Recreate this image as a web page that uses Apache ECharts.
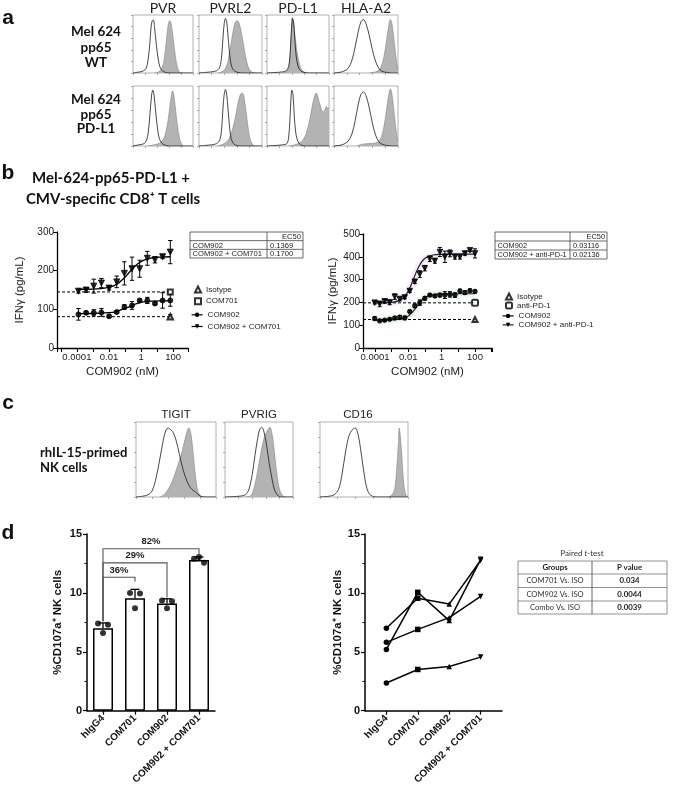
<!DOCTYPE html>
<html><head><meta charset="utf-8">
<script src="https://cdn.jsdelivr.net/npm/echarts@6/dist/echarts.min.js"></script>
<style>html,body{margin:0;padding:0;background:#fff}#c{width:677px;height:787px}</style>
</head><body><div id="c"></div>
<script>
// ================= DATA =================
// Panel a: flow histograms, [position (0-100, log fluorescence), % of max]
const aPvrWtIso = [[0,0],[6,1],[12,2],[18,4],[22,8],[25,22],[28,50],[30,78],[32,90],[34,91],[36,78],[39,48],[42,24],[45,10],[49,4],[54,1],[62,0],[100,0]];
const aPvrWtStain = [[36,0],[43,2],[47,6],[51,18],[54,40],[57,70],[59,85],[61,90],[63,87],[66,68],[69,42],[72,20],[75,7],[78,1],[82,0]];
const aPvrl2WtIso = [[0,0],[10,1],[20,2],[28,4],[33,10],[36,30],[38,60],[40,85],[42,94],[44,88],[46,65],[48,40],[50,20],[53,8],[57,3],[62,1],[70,0],[100,0]];
const aPvrl2WtStain = [[30,0],[38,3],[42,8],[46,20],[50,45],[53,65],[56,82],[58,88],[61,90],[64,85],[68,65],[72,40],[76,18],[80,6],[85,1],[90,0]];
const aPdl1WtIso = [[0,0],[15,1],[25,2],[32,5],[36,18],[38,48],[40,84],[41,95],[43,86],[45,56],[47,30],[50,12],[54,4],[60,1],[70,0],[100,0]];
const aPdl1WtStain = [[25,0],[32,3],[36,14],[38,44],[40,84],[41,93],[43,88],[45,66],[48,40],[51,22],[54,10],[58,3],[64,0]];
const aHlaWtIso = [[0,0],[8,1],[15,3],[22,8],[28,22],[33,45],[38,72],[42,88],[46,92],[50,85],[55,65],[60,40],[65,20],[70,8],[75,3],[82,1],[90,0],[100,0]];
const aHlaWtStain = [[55,0],[65,2],[70,5],[74,12],[78,28],[82,55],[85,78],[88,92],[90,88],[93,65],[96,35],[99,10],[100,5]];
const aPvrPdIso = [[0,0],[5,1],[10,2],[16,3],[21,6],[25,20],[28,50],[31,85],[33,93],[35,85],[38,55],[41,28],[44,12],[48,5],[52,2],[60,0],[100,0]];
const aPvrPdStain = [[25,0],[35,2],[45,5],[50,10],[54,20],[58,40],[61,62],[64,85],[66,92],[68,85],[71,60],[74,35],[77,15],[80,5],[84,0]];
const aPvrl2PdIso = [[0,0],[10,1],[20,2],[28,4],[33,10],[36,30],[38,62],[40,86],[42,94],[44,86],[46,62],[48,38],[50,18],[53,7],[57,2],[64,0],[100,0]];
const aPvrl2PdStain = [[30,0],[40,4],[45,8],[50,18],[55,35],[59,55],[62,72],[65,84],[68,88],[70,87],[72,78],[75,55],[78,30],[81,12],[85,3],[89,0]];
const aPdl1PdIso = [[0,0],[15,1],[25,2],[32,4],[35,15],[37,45],[39,85],[40,93],[42,85],[44,50],[46,25],[49,10],[53,3],[60,0],[100,0]];
const aPdl1PdStain = [[35,0],[45,2],[52,5],[58,10],[63,20],[67,35],[71,55],[74,72],[77,84],[79,88],[81,86],[84,74],[87,64],[89,58],[91,57],[94,62],[96,66],[98,62],[100,64]];
const aHlaPdIso = [[0,0],[8,1],[15,3],[22,8],[28,20],[33,42],[38,70],[42,86],[46,90],[50,84],[55,64],[60,38],[65,18],[70,7],[75,3],[82,1],[90,0],[100,0]];
const aHlaPdStain = [[35,0],[45,3],[55,4],[65,5],[70,8],[74,15],[78,32],[82,60],[85,82],[88,95],[90,90],[93,65],[96,35],[99,12],[100,8]];
const aMarkers = ['PVR','PVRL2','PD-L1','HLA-A2'];

// Panel c histograms
const cTigitIso = [[0,0],[8,1],[15,3],[20,8],[25,25],[30,52],[34,75],[37,88],[40,92],[43,90],[46,87],[50,76],[54,58],[58,40],[62,26],[66,16],[70,10],[74,7],[77,4],[81,1],[88,0],[100,0]];
const cTigitStain = [[30,0],[35,3],[40,10],[45,20],[50,35],[54,48],[58,62],[61,76],[64,88],[66,92],[69,82],[72,52],[75,22],[78,6],[82,0]];
const cPvrigIso = [[0,0],[20,1],[30,3],[35,10],[40,30],[44,55],[48,78],[51,90],[54,93],[57,88],[61,70],[65,45],[69,25],[72,12],[76,4],[82,0],[100,0]];
const cPvrigStain = [[30,0],[38,2],[42,10],[46,25],[50,45],[54,65],[58,80],[62,88],[66,93],[69,85],[72,65],[75,40],[79,15],[83,4],[88,0]];
const cCd16Iso = [[0,0],[10,1],[16,3],[21,10],[25,30],[29,60],[33,82],[37,90],[40,92],[43,85],[46,65],[49,40],[52,18],[55,6],[58,2],[64,0],[100,0]];
const cCd16Stain = [[78,0],[82,3],[85,12],[87,35],[89,70],[90,92],[91,85],[93,55],[95,20],[97,5],[99,0]];
const cMarkers = ['TIGIT','PVRIG','CD16'];

// Panel b left (3-fold dilutions, nM)
const concLeft = [0.000125,0.000376,0.00113,0.00339,0.0102,0.0305,0.0914,0.274,0.823,2.47,7.41,22.2,66.7];
const leftCom902 = [87,91,91,92,82,93,106,110,123,123,115,123,123];
const leftCom902Sd = [15,4,8,10,3,3,6,10,3,8,3,20,15];
const leftCombo = [147,150,160,168,155,171,193,205,205,232,228,236,248];
const leftComboSd = [5,6,18,12,5,15,30,30,22,18,8,5,30];
const leftFitX = [0.000125,0.001,0.01,0.03,0.1,0.17,0.3,0.6,1,2,5,15,66.7];
const leftFitCom902 = [89,89.2,91.3,95,103,105.5,111,115.5,118,119.8,121,121.7,122];
const leftFitCombo = [152,152.5,157,164.5,183,194,205.5,217,223.5,229,233,235,236];
const leftCtrlConc = 66.7;
const leftIsotype = 81, leftIsotypeSd = 5;
const leftCom701 = 145;
const leftEC50 = [['COM902','0.1369'],['COM902 + COM701','0.1700']];

// Panel b right (2-fold dilutions, nM)
const concRight = [9.54e-5,1.91e-4,3.81e-4,7.63e-4,0.00153,0.00305,0.0061,0.0122,0.0244,0.0488,0.0977,0.195,0.391,0.781,1.56,3.13,6.25,12.5,25,50,100];
const rightCom902 = [129,119,122,126,132,135,132,160,185,199,218,232,228,232,232,235,232,250,243,252,248];
const rightCom902Sd = [8,4,4,5,5,8,8,5,8,12,8,6,5,8,15,12,10,8,8,6,6];
const rightCombo = [199,193,205,200,225,215,222,250,291,324,350,391,382,421,400,415,400,400,415,429,415];
const rightComboSd = [6,12,8,10,12,8,6,6,8,15,12,12,10,20,25,15,10,10,8,5,20];
const rightFitX = [9.54e-5,0.001,0.003,0.006,0.01,0.015,0.021,0.031,0.05,0.08,0.15,0.3,1,5,100];
const rightFitCom902 = [123,123.7,126.4,132,140.8,152,164.2,180.5,200.3,215.7,228.1,234.3,237.4,238,238];
const rightFitCombo = [198,200,209,226,251,278,305,335,366,387,401,408,411,412,412];
const rightCtrlConc = 100;
const rightIsotype = 125;
const rightAntiPd1 = 198;
const rightEC50 = [['COM902','0.03116'],['COM902 + anti-PD-1','0.02136']];

// Panel d
const dCats = ['hIgG4','COM701','COM902','COM902 + COM701'];
const dBarMean = [7.0,9.55,9.1,12.8];
const dBarSd = [0.45,0.75,0.4,0.25];
const dDots = [[7.4,7.3,6.6],[10.0,9.95,8.7],[9.35,9.3,8.7],[12.9,12.55,13.05]]; // left, right, middle
const dBrFrom = [0,0,0], dBrTo = [1,2,3];
const dBrY = [11.33,12.55,13.75], dBrLeftEnd = [7.6,7.6,7.6], dBrRightEnd = [10.97,9.6,13.3];
const dBrText = ['36%','29%','82%'];
const donor1 = [7.0,9.55,9.05,12.75];
const donor2 = [5.2,10.05,7.65,12.85];
const donor3 = [5.8,6.9,7.9,9.7];
const donor4 = [2.35,3.5,3.75,4.55];
const dCatSymbol = ['circle','rect','triangle','triangle'];
const dCatRotate = [0,0,0,180];
const tTestRows = [['COM701 Vs. ISO','0.034'],['COM902 Vs. ISO','0.0044'],['Combo Vs. ISO','0.0039']];

// ================= BUILD =================
const ARIAL = "'Liberation Sans', Arial, sans-serif";
const CAL = "Lato, 'Open Sans', sans-serif";
const grids = [], xAxes = [], yAxes = [], series = [], graphics = [];
function addGrid(g, x, y) {
  grids.push(g); const i = grids.length - 1;
  xAxes.push(Object.assign({gridIndex: i}, x));
  yAxes.push(Object.assign({gridIndex: i}, y));
  return i;
}
function txt(x, y, text, o) {
  o = o || {};
  graphics.push({type:'text', x:x, y:y, silent:true, style:{text:text, fontSize:o.size||10, fontWeight:o.weight||'normal',
    fontStyle:o.style||'normal', fontFamily:o.family||ARIAL, fill:o.color||'#111', align:o.align||'center', verticalAlign:'middle', rich:o.rich}});
}
function gline(x1,y1,x2,y2,c,w){ graphics.push({type:'line', silent:true, shape:{x1:x1,y1:y1,x2:x2,y2:y2}, style:{stroke:c||'#555', lineWidth:w||0.8}}); }
function grect(x,y,w,h,c,lw){ graphics.push({type:'rect', silent:true, shape:{x:x,y:y,width:w,height:h}, style:{fill:'none', stroke:c||'#555', lineWidth:lw||0.8}}); }

// ---- histograms
function addHist(box, stain, iso) {
  const tick = {show:true, length:2, inside:false, lineStyle:{color:'#777', width:0.6}};
  const i = addGrid({left:box[0], top:box[1], width:box[2], height:box[3], show:true, borderColor:'#a0a0a0', borderWidth:0.8, backgroundColor:'#fff'},
    {type:'value', min:0, max:100, interval:20, axisLine:{show:false}, axisTick:tick, axisLabel:{show:false}, splitLine:{show:false}},
    {type:'value', min:0, max:100, interval:20, axisLine:{show:false}, axisTick:tick, axisLabel:{show:false}, splitLine:{show:false}});
  series.push({type:'line', xAxisIndex:i, yAxisIndex:i, data:stain, smooth:0.35, symbol:'none', silent:true,
    lineStyle:{color:'#858585', width:0.6}, areaStyle:{color:'#b3b3b3', opacity:1}});
  series.push({type:'line', xAxisIndex:i, yAxisIndex:i, data:iso, smooth:0.35, symbol:'none', silent:true,
    lineStyle:{color:'#1a1a1a', width:0.8}});
}
const aLefts = [133,199,267,334], aWidths = [60,63,62,64], aTops = [15,86], aHeights = [58,60];
const aData = [[aPvrWtStain,aPvrWtIso],[aPvrl2WtStain,aPvrl2WtIso],[aPdl1WtStain,aPdl1WtIso],[aHlaWtStain,aHlaWtIso],
               [aPvrPdStain,aPvrPdIso],[aPvrl2PdStain,aPvrl2PdIso],[aPdl1PdStain,aPdl1PdIso],[aHlaPdStain,aHlaPdIso]];
for (let r = 0; r < 2; r++) for (let c = 0; c < 4; c++) {
  const d = aData[r*4+c];
  addHist([aLefts[c], aTops[r], aWidths[c], aHeights[r]], d[0], d[1]);
}
aMarkers.forEach((m, c) => txt(aLefts[c] + aWidths[c]/2, 8, m, {size:14, family:CAL, color:'#222'}));
txt(96, 32, 'Mel 624', {size:13.5, weight:'bold', family:CAL});
txt(96, 47.5, 'pp65', {size:13.5, weight:'bold', family:CAL});
txt(96, 63, 'WT', {size:13.5, weight:'bold', family:CAL});
txt(96, 99.5, 'Mel 624', {size:13.5, weight:'bold', family:CAL});
txt(96, 114.5, 'pp65', {size:13.5, weight:'bold', family:CAL});
txt(96, 129, 'PD-L1', {size:13.5, weight:'bold', family:CAL});

const cLefts = [136,225,320], cWidths = [80,68,88];
const cData = [[cTigitStain,cTigitIso],[cPvrigStain,cPvrigIso],[cCd16Stain,cCd16Iso]];
cData.forEach((d, k) => addHist([cLefts[k], 422, cWidths[k], 75], d[0], d[1]));
cMarkers.forEach((m, k) => txt(cLefts[k] + cWidths[k]/2 - (k === 2 ? 6 : 0), 415, m, {size:11.5, color:'#222'}));
txt(40, 453, 'rhIL-15-primed', {size:13, weight:'bold', family:CAL, align:'left'});
txt(40, 468, 'NK cells', {size:13, weight:'bold', family:CAL, align:'left'});

// panel letters
txt(8, 18, 'a', {size:21, weight:'bold'});
txt(8, 173, 'b', {size:21, weight:'bold'});
txt(8, 403, 'c', {size:21, weight:'bold'});
txt(8, 533, 'd', {size:21, weight:'bold'});

// ---- panel b
txt(111, 178, 'Mel-624-pp65-PD-L1 +', {size:15, weight:'bold', family:CAL});
txt(113, 199, 'CMV-specific CD8\u207A T cells', {size:15, weight:'bold', family:CAL});

function logFmt(v) {
  const e = Math.log10(v), r = Math.round(e);
  if (Math.abs(e - r) > 1e-6 || r % 2 !== 0) return '';
  return r < 0 ? Number(v).toFixed(-r) : String(Math.round(v));
}
const axLine = {show:true, onZero:false, lineStyle:{color:'#000', width:1.3}};
const axTick = {show:true, length:4, lineStyle:{color:'#000', width:1}};
function bAxes(box, xmin, xmax, ymax, nameGapY) {
  return addGrid({left:box[0], top:box[1], width:box[2], height:box[3]},
    {type:'log', min:xmin, max:xmax, splitNumber:8, axisLine:axLine, axisTick:axTick, splitLine:{show:false},
     axisLabel:{formatter:logFmt, fontSize:9.5, color:'#222', margin:4, fontFamily:ARIAL},
     name:'COM902 (nM)', nameLocation:'middle', nameGap:18, nameTextStyle:{fontSize:11.5, color:'#222', fontFamily:ARIAL}},
    {type:'value', min:0, max:ymax, interval:100, axisLine:axLine, axisTick:axTick, splitLine:{show:false},
     axisLabel:{fontSize:10, color:'#222', margin:3, fontFamily:ARIAL},
     name:'IFN\u03B3 (pg/mL)', nameLocation:'middle', nameRotate:90, nameGap:nameGapY, nameTextStyle:{fontSize:11.5, color:'#222', fontFamily:ARIAL}});
}
function errRender(capHalf, upOnly, lw) {
  return function(params, api) {
    const x = api.value(0), y = api.value(1), e = api.value(2);
    const p1 = api.coord([x, y + e]), p0 = api.coord([x, upOnly ? y : y - e]);
    const st = {stroke:'#000', lineWidth:lw || 1};
    const ch = [{type:'line', shape:{x1:p1[0],y1:p1[1],x2:p0[0],y2:p0[1]}, style:st},
                {type:'line', shape:{x1:p1[0]-capHalf,y1:p1[1],x2:p1[0]+capHalf,y2:p1[1]}, style:st}];
    if (!upOnly) ch.push({type:'line', shape:{x1:p0[0]-capHalf,y1:p0[1],x2:p0[0]+capHalf,y2:p0[1]}, style:st});
    return {type:'group', children:ch};
  };
}
function errSeries(i, xs, ys, es, cap) {
  series.push({type:'custom', name:'_err', xAxisIndex:i, yAxisIndex:i, silent:true, z:3, encode:{x:0, y:1},
    data: xs.map((x, k) => [x, ys[k], es[k]]), renderItem: errRender(cap, false, 1)});
}
function pts(i, xs, ys, symbol, size, rot, name) {
  series.push({type:'scatter', name:name || '_pts', xAxisIndex:i, yAxisIndex:i, silent:true, z:4,
    data: xs.map((x, k) => [x, ys[k]]), symbol:symbol, symbolSize:size, symbolRotate:rot || 0,
    itemStyle:{color:'#000', borderColor:'#000', borderWidth:1}});
}
function fit(i, xs, ys, name, symbol, rot, ls) {
  series.push({type:'line', name:name, xAxisIndex:i, yAxisIndex:i, silent:true, z:2, smooth:0.4,
    data: xs.map((x, k) => [x, ys[k]]), showSymbol:false, symbol:symbol, symbolSize:6, symbolRotate:rot || 0,
    itemStyle:{color:'#000'}, lineStyle: ls || {color:'#000', width:1.3}});
}
function dashed(i, x0, x1, y) {
  series.push({type:'line', name:'_dash', xAxisIndex:i, yAxisIndex:i, silent:true, z:1, symbol:'none',
    data:[[x0, y],[x1, y]], lineStyle:{color:'#000', width:1, type:[3,2]}});
}

// left chart
const bLmin = 5.75e-6, bLmax = 851;
const iBL = bAxes([57,232,131,116], bLmin, bLmax, 300, 31);
dashed(iBL, bLmin, leftCtrlConc, leftCom701);
dashed(iBL, bLmin, leftCtrlConc, leftIsotype);
fit(iBL, leftFitX, leftFitCom902, 'COM902', 'circle', 0);
fit(iBL, leftFitX, leftFitCombo, 'COM902 + COM701', 'triangle', 180);
errSeries(iBL, concLeft, leftCom902, leftCom902Sd, 2.2);
errSeries(iBL, concLeft, leftCombo, leftComboSd, 2.2);
errSeries(iBL, [leftCtrlConc], [leftIsotype], [leftIsotypeSd], 2.2);
pts(iBL, concLeft, leftCom902, 'circle', 5);
pts(iBL, concLeft, leftCombo, 'triangle', 6, 180);
series.push({type:'scatter', name:'Isotype', xAxisIndex:iBL, yAxisIndex:iBL, silent:true, z:4, data:[[leftCtrlConc, leftIsotype]],
  symbol:'emptyTriangle', symbolSize:5.5, itemStyle:{color:'#000', borderColor:'#000', borderWidth:1}});
series.push({type:'scatter', name:'COM701', xAxisIndex:iBL, yAxisIndex:iBL, silent:true, z:4, data:[[leftCtrlConc, leftCom701]],
  symbol:'emptyRect', symbolSize:5, itemStyle:{color:'#000', borderColor:'#000', borderWidth:1}});

// right chart
const bRmin = 1.905e-5, bRmax = 1047;
const iBR = bAxes([363,234,129,114], bRmin, bRmax, 500, 24);
dashed(iBR, bRmin, rightCtrlConc, rightAntiPd1);
dashed(iBR, bRmin, rightCtrlConc, rightIsotype);
fit(iBR, rightFitX, rightFitCom902, '_fitR1', 'circle', 0, {color:'#1f2f1f', width:1.2, shadowColor:'rgba(80,170,80,0.85)', shadowBlur:4});
fit(iBR, rightFitX, rightFitCombo, 'COM902 + anti-PD-1', 'triangle', 180, {color:'#2a2030', width:1.2, shadowColor:'rgba(170,110,200,0.85)', shadowBlur:4});
errSeries(iBR, concRight, rightCom902, rightCom902Sd, 2);
errSeries(iBR, concRight, rightCombo, rightComboSd, 2);
pts(iBR, concRight, rightCom902, 'circle', 4.5);
pts(iBR, concRight, rightCombo, 'triangle', 5.5, 180);
series.push({type:'scatter', name:'_isoR', xAxisIndex:iBR, yAxisIndex:iBR, silent:true, z:4, data:[[rightCtrlConc, rightIsotype]],
  symbol:'emptyTriangle', symbolSize:5, itemStyle:{color:'#000', borderColor:'#000', borderWidth:1}});
series.push({type:'scatter', name:'anti-PD-1', xAxisIndex:iBR, yAxisIndex:iBR, silent:true, z:4, data:[[rightCtrlConc, rightAntiPd1]],
  symbol:'emptyRoundRect', symbolSize:6, itemStyle:{color:'#000', borderColor:'#000', borderWidth:1.3}});

// EC50 tables
function ec50Table(x, y, w, h, div, rows, fs) {
  grect(x, y, w, h, '#444', 0.8);
  const rh = h / 3;
  gline(x, y + rh, x + w, y + rh, '#444', 0.8);
  gline(x, y + 2*rh, x + w, y + 2*rh, '#444', 0.8);
  gline(div, y, div, y + h, '#444', 0.8);
  txt(x + w - 2, y + rh/2 + 0.5, 'EC50', {size:fs, align:'right', color:'#222'});
  rows.forEach((r, k) => {
    txt(x + 2.5, y + rh*(k + 1.5) + 0.5, r[0], {size:fs, align:'left', color:'#222'});
    txt(div + 3, y + rh*(k + 1.5) + 0.5, r[1], {size:fs, align:'left', color:'#222'});
  });
}
ec50Table(190, 232, 113, 26, 267, leftEC50, 7.6);
ec50Table(495, 232, 112, 27, 570, rightEC50, 7.4);

// ---- panel d bar chart
const dAxLine = {show:true, onZero:false, lineStyle:{color:'#000', width:1.5}};
const dTick = {show:true, length:4, lineStyle:{color:'#000', width:1.2}};
const dYAxis = (gap) => ({type:'value', min:0, max:15, interval:5, axisLine:dAxLine, axisTick:dTick,
  minorTick:{show:true, splitNumber:2, length:2.5, lineStyle:{color:'#000', width:1}}, splitLine:{show:false}, minorSplitLine:{show:false},
  axisLabel:{fontSize:11, fontWeight:'bold', color:'#111', margin:5, fontFamily:ARIAL},
  name:'%CD107a\u207A NK cells', nameLocation:'middle', nameRotate:90, nameGap:gap,
  nameTextStyle:{fontSize:11.5, fontWeight:'bold', color:'#111', fontFamily:ARIAL}});
const iDB = addGrid({left:87, top:534, width:128, height:183},
  {type:'category', data:dCats, axisLine:dAxLine, axisTick:Object.assign({alignWithLabel:true}, dTick),
   axisLabel:{rotate:45, interval:0, fontSize:10, fontWeight:'bold', color:'#111', margin:6, fontFamily:ARIAL}},
  dYAxis(23));
series.push({type:'bar', name:'_bars', xAxisIndex:iDB, yAxisIndex:iDB, silent:true, z:2, data:dBarMean, barWidth:20,
  itemStyle:{color:'#fff', borderColor:'#000', borderWidth:1.5}});
series.push({type:'custom', name:'_barErr', xAxisIndex:iDB, yAxisIndex:iDB, silent:true, z:3, encode:{x:0, y:1},
  data: dBarMean.map((m, k) => [k, m, dBarSd[k]]), renderItem: errRender(4.5, true, 1.3)});
const dotOffsets = [[-5,0],[5,0],[0,0]];
const dotData = [];
dDots.forEach((vals, k) => vals.forEach((v, j) => dotData.push({value:[k, v], symbolOffset:dotOffsets[j]})));
series.push({type:'scatter', name:'_dots', xAxisIndex:iDB, yAxisIndex:iDB, silent:true, z:4, data:dotData,
  symbol:'circle', symbolSize:6, itemStyle:{color:'#000'}});
series.push({type:'custom', name:'_brackets', xAxisIndex:iDB, yAxisIndex:iDB, silent:true, z:5, encode:{x:0, y:2},
  data: dBrFrom.map((f, k) => [f, dBrTo[k], dBrY[k], dBrLeftEnd[k], dBrRightEnd[k]]),
  renderItem: function(params, api) {
    const f = api.value(0), t = api.value(1), y = api.value(2), yl = api.value(3), yr = api.value(4);
    const la = api.coord([f, yl]), a = api.coord([f, y]), b = api.coord([t, y]), rb = api.coord([t, yr]);
    return {type:'group', children:[
      {type:'polyline', shape:{points:[la, a, b, rb]}, style:{stroke:'#555', lineWidth:1.1, fill:null}},
      {type:'text', x:(a[0] + b[0]) / 2, y:a[1] - 2, style:{text:dBrText[params.dataIndex], fontSize:9.5, fontWeight:'bold',
        fontFamily:ARIAL, fill:'#222', align:'center', verticalAlign:'bottom'}}
    ]};
  }});

// ---- panel d line chart
const iDL = addGrid({left:365, top:534, width:137, height:183},
  {type:'value', min:-0.68, max:3.68, axisLine:dAxLine, splitLine:{show:false},
   axisTick:Object.assign({customValues:[0,1,2,3]}, dTick),
   axisLabel:{customValues:[0,1,2,3], formatter:(v) => dCats[Math.round(v)], rotate:45, fontSize:10, fontWeight:'bold', color:'#111', margin:6, fontFamily:ARIAL}},
  dYAxis(17));
[donor1, donor2, donor3, donor4].forEach((d, n) => {
  series.push({type:'line', name:'_donor' + n, xAxisIndex:iDL, yAxisIndex:iDL, silent:true, z:3,
    data: d.map((v, k) => ({value:[k, v], symbol:dCatSymbol[k], symbolRotate:dCatRotate[k]})),
    symbolSize:5.5, showSymbol:true, itemStyle:{color:'#000'}, lineStyle:{color:'#000', width:1.5}});
});

// paired t-test table
txt(582, 553, '{a|Paired }{i|t}{a|-test}', {size:8, family:CAL, color:'#333',
  rich:{a:{fontSize:8, fontFamily:CAL, fill:'#333'}, i:{fontSize:8, fontFamily:CAL, fontStyle:'italic', fill:'#333'}}});
grect(518, 561, 149, 53, '#777', 0.8);
[574, 587.5, 601].forEach(y => gline(518, y, 667, y, '#777', 0.8));
gline(592, 561, 592, 614, '#555', 0.9);
txt(555, 567.8, 'Groups', {size:7.8, weight:'bold', family:CAL, color:'#222'});
txt(629.5, 567.8, 'P value', {size:7.8, weight:'bold', family:CAL, color:'#222'});
tTestRows.forEach((r, k) => {
  const y = 574 + 13.4 * k + 6.8;
  txt(555, y, r[0], {size:7.6, family:CAL, color:'#333'});
  txt(629.5, y, r[1], {size:7.8, weight:'bold', family:CAL, color:'#222'});
});

// legends: small symbol-only items and line+symbol items
const legendBase = {orient:'vertical', selectedMode:false, padding:0,
  textStyle:{fontSize:8, fontFamily:ARIAL, color:'#222'}, lineStyle:{width:1.2}};
const symLeg = (left, top, gap, names) => Object.assign({}, legendBase, {left:left, top:top, itemGap:gap, itemWidth:6, itemHeight:6,
  itemStyle:{borderWidth:1}, data:names});
const lineLeg = (left, top, gap, names) => Object.assign({}, legendBase, {left:left, top:top, itemGap:gap, itemWidth:11, itemHeight:5.5, data:names});
const option = {
  animation:false, backgroundColor:'#fff', textStyle:{fontFamily:ARIAL},
  grid:grids, xAxis:xAxes, yAxis:yAxes, series:series, graphic:graphics,
  legend:[
    symLeg(194, 285.5, 3.7, ['Isotype','COM701']),
    lineLeg(191, 310.8, 3.7, ['COM902','COM902 + COM701']),
    symLeg(505, 292.5, 1.0, ['Isotype','anti-PD-1']),
    lineLeg(502, 311.9, 1.0, ['COM902','COM902 + anti-PD-1'])
  ]
};
const chart = echarts.init(document.getElementById('c'), null, {renderer:'canvas'});
chart.setOption(option);
</script>
</body></html>
